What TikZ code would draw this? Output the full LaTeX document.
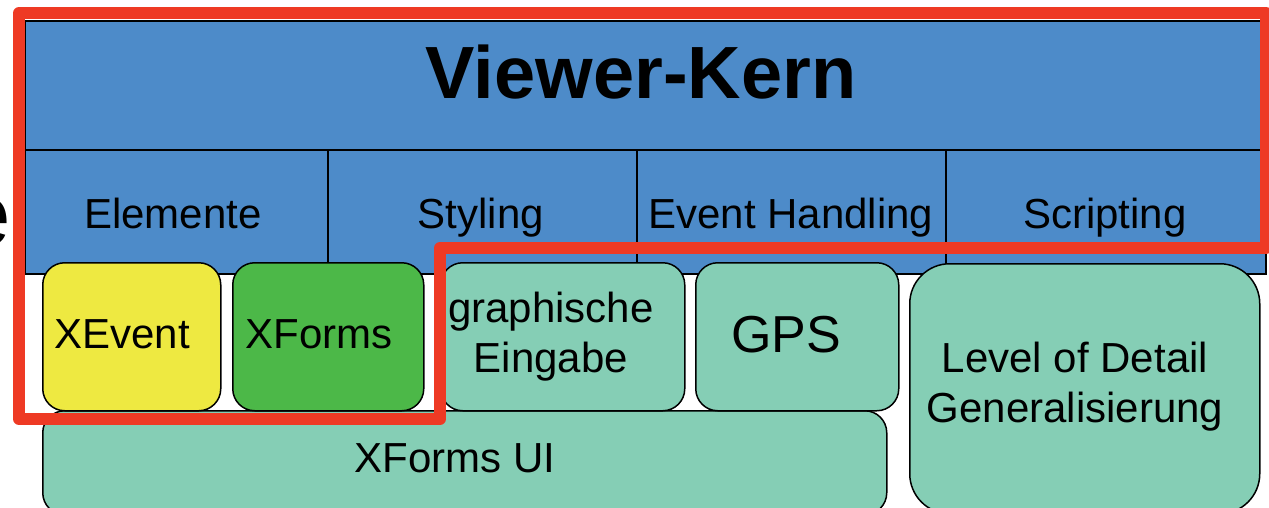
\documentclass[tikz,border=0pt]{standalone}
\usepackage{fontspec}
\setmainfont{Liberation Sans}
\definecolor{kernblue}{RGB}{77,139,201}
\definecolor{modteal}{RGB}{133,206,181}
\definecolor{evyellow}{RGB}{238,233,65}
\definecolor{formgreen}{RGB}{76,184,72}
\definecolor{markred}{RGB}{238,58,36}

\begin{document}
\begin{tikzpicture}[x=1pt,y=-1pt,
  cell/.style={draw=black, line width=2pt, fill=kernblue, rectangle, inner sep=0pt, anchor=north west},
  module/.style={draw=black, line width=1.5pt, fill=modteal, rectangle, rounded corners=22pt, inner sep=0pt, anchor=north west},
  lbl/.style={font=\fontsize{42}{50}\selectfont, inner sep=0pt, anchor=base},
  mlbl/.style={font=\fontsize{42}{50}\selectfont, inner sep=0pt, align=center},
  marker/.style={draw=markred, line width=12pt, line join=round},
]
\useasboundingbox (0,0) rectangle (1269,507);

% stray letter at the left border
\node[font=\fontsize{89}{89}\selectfont, inner sep=0pt, anchor=base east] (stray) at (11,245) {e};

% viewer core: title row and four columns
\node[cell, minimum width=1242pt, minimum height=129pt] (kern) at (24,20) {};
\node[cell, minimum width=303pt, minimum height=124pt] (colA) at (24,149) {};
\node[cell, minimum width=309pt, minimum height=124pt] (colB) at (327,149) {};
\node[cell, minimum width=309pt, minimum height=124pt] (colC) at (636,149) {};
\node[cell, minimum width=320pt, minimum height=124pt] (colD) at (945,149) {};

\node[font=\fontsize{74}{74}\selectfont\bfseries, inner sep=0pt, anchor=base] (title) at (641,98) {Viewer-Kern};
\node[lbl] (tA) at (173,228) {Elemente};
\node[lbl] (tB) at (481,228) {Styling};
\node[lbl] (tC) at (791,228) {Event Handling};
\node[lbl] (tD) at (1105,228) {Scripting};

% modules
\node[module, fill=modteal, minimum width=844pt, minimum height=104pt] (ui) at (42,410) {};
\node[module, fill=evyellow, minimum width=178pt, minimum height=148pt] (xevent) at (42,262) {};
\node[module, fill=formgreen, minimum width=191pt, minimum height=148pt] (xforms) at (232,262) {};
\node[module, minimum width=244pt, minimum height=148pt] (graph) at (440,262) {};
\node[module, minimum width=203pt, minimum height=148pt] (gps) at (695,262) {};
\node[module, rounded corners=40pt, minimum width=350pt, minimum height=250pt] (lod) at (909,263) {};

\node[lbl] (lxevent) at (122,348) {XEvent};
\node[lbl] (lxforms) at (319,348) {XForms};
\node[mlbl] (lgraph) at (551,336.5) {graphische\\Eingabe};
\node[font=\fontsize{52}{52}\selectfont, inner sep=0pt, anchor=base] (lgps) at (786,352) {GPS};
\node[mlbl] (llod) at (1075,387) {Level of Detail\\Generalisierung};
\node[lbl] (lui) at (455,472) {XForms UI};

% highlight outline
\draw[marker] (19,13) -- (1266,13) -- (1266,248) -- (440,248) -- (440,419) -- (19,419) -- cycle;
\end{tikzpicture}
\end{document}
